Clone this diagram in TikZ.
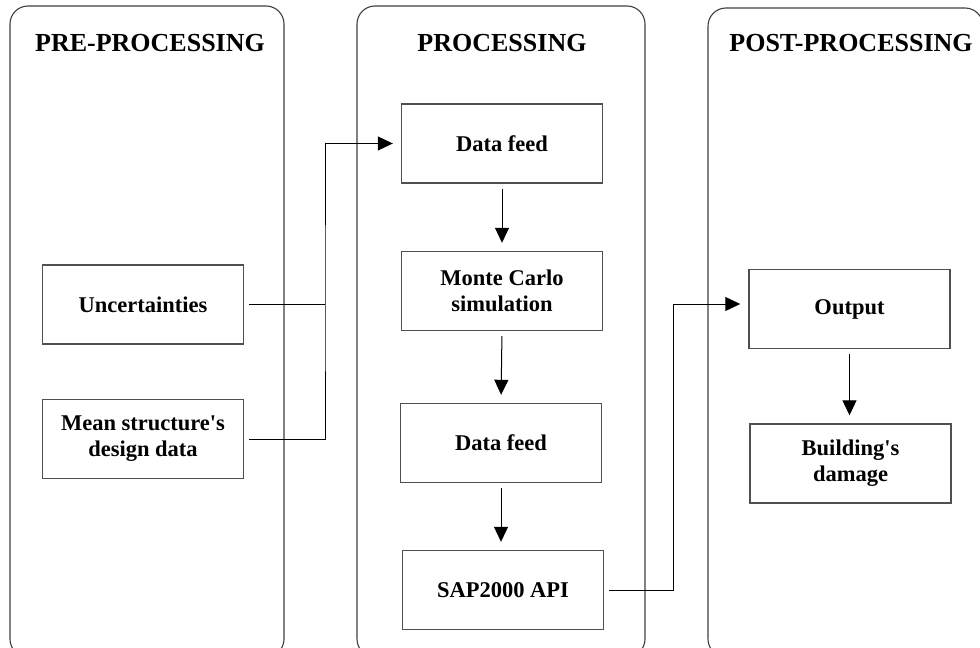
\documentclass[tikz,border=0pt]{standalone}
\usepackage{fontspec}
\setmainfont{Liberation Serif}
\usetikzlibrary{arrows.meta}
\definecolor{panelgray}{HTML}{404040}
\definecolor{boxgray}{HTML}{505050}
\tikzset{
  panel/.style={draw=panelgray, line width=1.1bp, rounded corners=18bp},
  title/.style={font=\fontsize{26bp}{30bp}\selectfont\bfseries, inner sep=0pt},
  stepbox/.style={draw=boxgray, line width=1.4bp, minimum width=201bp, minimum height=79bp,
    inner sep=0pt, align=center, font=\fontsize{22.5bp}{26bp}\selectfont\bfseries},
  conn/.style={draw=black, line width=1bp},
  arr/.style={conn, -{Triangle[length=15bp,width=14bp]}, shorten <=5bp, shorten >=8bp},
}
\begin{document}
\begin{tikzpicture}[x=1bp, y=-1bp]
\clip (0,0) rectangle (980,648);
\fill[white] (0,0) rectangle (980,648);
% panels
\draw[panel] (10,6) rectangle (284,657);
\draw[panel] (357,6) rectangle (645,657);
\draw[panel] (708,8) rectangle (983,657);
% titles
\node[title] (t1) at (150,43) {PRE-PROCESSING};
\node[title] (t2) at (502,43) {PROCESSING};
\node[title] (t3) at (851,43) {POST-PROCESSING};
% boxes
\node[stepbox] (u) at (143,304.5) {Uncertainties};
\node[stepbox] (m) at (143,439) {Mean structure\textquotesingle s\\design data};
\node[stepbox] (d1) at (502,143.5) {Data feed};
\node[stepbox] (mc) at (502,291) {Monte Carlo\\simulation};
\node[stepbox] (d2) at (501,443) {Data feed};
\node[stepbox] (s) at (503,590) {SAP2000 API};
\node[stepbox] (o) at (849.5,309) {Output};
\node[stepbox] (b) at (850.5,463.5) {Building\textquotesingle s\\damage};
% connectors
\coordinate (j) at (325,304.5);
\coordinate (k) at (673,590);
\draw[conn, shorten <=5bp] (u.east) -- (j);
\draw[arr] (m.east) -| (j) |- (d1.west);
\draw[arr] (d1.south) -- (mc.north);
\draw[arr] (mc.south) -- (d2.north);
\draw[arr] (d2.south) -- (d2.south |- s.north);
\draw[arr] (s.east) -| (k) |- ([yshift=5bp]o.west);
\draw[arr] (o.south) -- (o.south |- b.north);
\end{tikzpicture}
\end{document}
